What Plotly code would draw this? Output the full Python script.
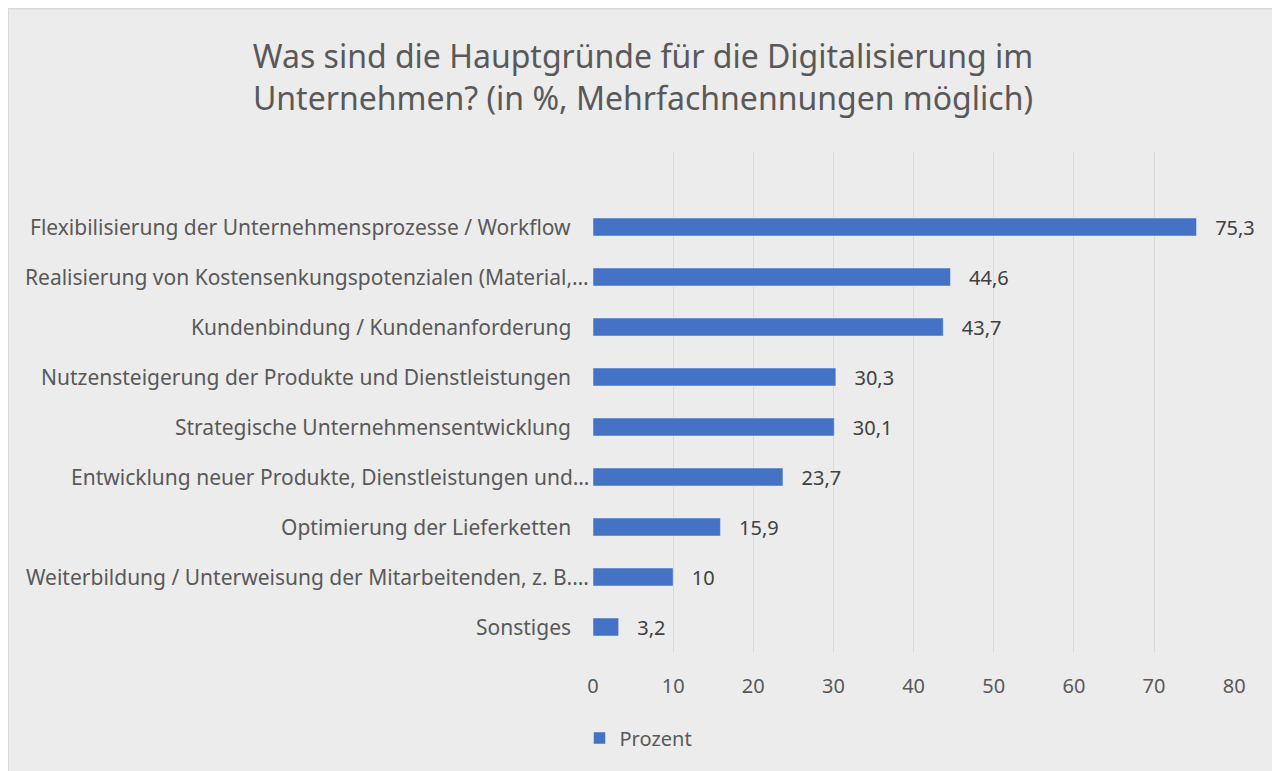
import plotly.graph_objects as go

# data (top to bottom)
categories = [
    "Flexibilisierung der Unternehmensprozesse / Workflow",
    "Realisierung von Kostensenkungspotenzialen (Material,…",
    "Kundenbindung / Kundenanforderung",
    "Nutzensteigerung der Produkte und Dienstleistungen",
    "Strategische Unternehmensentwicklung",
    "Entwicklung neuer Produkte, Dienstleistungen und…",
    "Optimierung der Lieferketten",
    "Weiterbildung / Unterweisung der Mitarbeitenden, z. B.…",
    "Sonstiges",
]
prozent = [75.3, 44.6, 43.7, 30.3, 30.1, 23.7, 15.9, 10, 3.2]
tick_vals = [0, 10, 20, 30, 40, 50, 60, 70, 80]

labels = ["   " + f"{v:g}".replace(".", ",") for v in prozent]

# the page puts the figure 8px in from the top-left corner
W, H = 1270, 771
L, R, T, B = 585, 43, 144, 127
pw, ph = W - L - R, H - T - B

font = "Noto Sans, Open Sans, sans-serif"
grey = "#595959"

fig = go.Figure(go.Bar(
    y=categories,
    x=prozent,
    orientation="h",
    name="Prozent",
    marker=dict(color="#4472c4"),
    width=0.36,
    text=labels,
    textposition="outside",
    constraintext="none",
    textfont=dict(size=20, color="#404040", family=font),
    cliponaxis=False,
))

# category labels (truncated ones sit closer to the axis)
for c in categories:
    fig.add_annotation(
        x=0, xref="paper", y=c, yref="y", text=c, showarrow=False,
        xanchor="right", yanchor="middle",
        xshift=-2 if c.endswith("…") else -20,
        font=dict(size=21, color=grey, family=font),
    )

fig.update_layout(
    width=W, height=H,
    margin=dict(l=L, r=R, t=T, b=B, autoexpand=False),
    paper_bgcolor="#ececec",
    plot_bgcolor="#ececec",
    font=dict(family=font, color=grey, size=20),
    title=dict(
        text="Was sind die Hauptgründe für die Digitalisierung im<br>Unternehmen? (in %, Mehrfachnennungen möglich)",
        x=0.5, xanchor="center", y=1 - 60 / H, yanchor="top",
        font=dict(size=32, color=grey, family=font),
    ),
    showlegend=True,
    legend=dict(
        orientation="h", x=-0.021, xanchor="left",
        y=-(730 - (H - B)) / ph, yanchor="middle",
        font=dict(size=20, color=grey), bgcolor="rgba(0,0,0,0)",
    ),
)

fig.update_xaxes(
    range=[0, 80.1], tickvals=tick_vals, showgrid=True, gridcolor="#d9d9d9",
    gridwidth=1, zeroline=False, showline=False, ticks="", automargin=False,
    tickfont=dict(size=20, color=grey), ticklabelstandoff=20,
)
fig.update_yaxes(
    autorange=False, range=[len(categories) - 0.5, -1.5],
    categoryorder="array", categoryarray=categories, automargin=False,
    showgrid=False, showline=False, ticks="", showticklabels=False,
)

# chart border along the figure edge
fig.add_shape(
    type="rect", xref="paper", yref="paper",
    x0=(0 - L) / pw, x1=(W - 2 - L) / pw,
    y0=-(B + 10) / ph, y1=1 + (T - 0.5) / ph,
    line=dict(color="#d9d9d9", width=2), fillcolor="rgba(0,0,0,0)", layer="below",
)

fig.write_html("out.html")
